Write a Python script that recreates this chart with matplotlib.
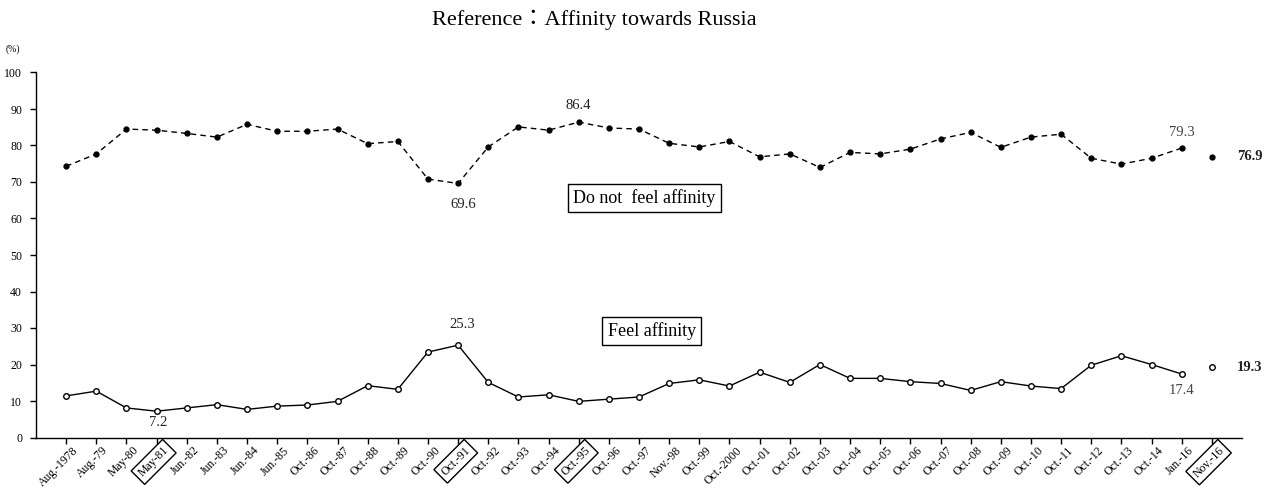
import matplotlib
matplotlib.use("Agg")
import matplotlib.pyplot as plt
import matplotlib.transforms as mtransforms

plt.rcParams['font.family'] = ['Liberation Serif', 'Noto Sans CJK JP', 'DejaVu Sans']

labels = ['Aug.-1978', 'Aug.-79', 'May-80', 'May-81', 'Jun.-82', 'Jun.-83', 'Jun.-84',
          'Jun.-85', 'Oct.-86', 'Oct.-87', 'Oct.-88', 'Oct.-89', 'Oct.-90', 'Oct.-91',
          'Oct.-92', 'Oct.-93', 'Oct.-94', 'Oct.-95', 'Oct.-96', 'Oct.-97', 'Nov.-98',
          'Oct.-99', 'Oct.-2000', 'Oct.-01', 'Oct.-02', 'Oct.-03', 'Oct.-04', 'Oct.-05',
          'Oct.-06', 'Oct.-07', 'Oct.-08', 'Oct.-09', 'Oct.-10', 'Oct.-11', 'Oct.-12',
          'Oct.-13', 'Oct.-14', 'Jan.-16', 'Nov.-16']

not_feel = [74.3, 77.7, 84.5, 84.2, 83.3, 82.3, 85.8, 83.9, 83.9, 84.5, 80.5, 81.1,
            70.8, 69.6, 79.6, 85.1, 84.2, 86.4, 84.8, 84.5, 80.6, 79.6, 81.1, 76.9,
            77.7, 74.0, 78.1, 77.7, 79.0, 81.8, 83.6, 79.5, 82.3, 83.1, 76.5, 74.9,
            76.5, 79.3, 76.9]

feel = [11.4, 12.7, 8.1, 7.2, 8.1, 9.0, 7.7, 8.6, 8.9, 9.9, 14.2, 13.2, 23.4, 25.3,
        15.1, 11.1, 11.7, 9.9, 10.5, 11.1, 14.8, 15.8, 14.1, 17.9, 15.1, 20.0, 16.2,
        16.2, 15.3, 14.8, 12.9, 15.3, 14.1, 13.4, 19.8, 22.4, 20.0, 17.4, 19.3]

boxed_labels = ['May-81', 'Oct.-91', 'Oct.-95', 'Nov.-16']

W, H = 1268, 490
fig = plt.figure(figsize=(W / 100, H / 100), dpi=100)
ax = fig.add_axes([36 / W, (H - 437.5) / H, (1242 - 36) / W, 365 / H])

n = len(labels)
x = list(range(n))
xc = x[:-1]

ax.plot(xc, not_feel[:-1], color='black', lw=1.0, linestyle=(0, (4, 3)),
        marker='o', markersize=3.5, markerfacecolor='black', markeredgecolor='black')
ax.plot(xc, feel[:-1], color='black', lw=1.0,
        marker='o', markersize=4, markerfacecolor='white', markeredgecolor='black',
        markeredgewidth=1.0)
ax.plot([x[-1]], [not_feel[-1]], linestyle='none', marker='o', markersize=3.5,
        markerfacecolor='black', markeredgecolor='black')
ax.plot([x[-1]], [feel[-1]], linestyle='none', marker='o', markersize=4,
        markerfacecolor='white', markeredgecolor='black', markeredgewidth=1.0)

ax.set_xlim(-1, n)
ax.set_ylim(0, 100)
ax.set_yticks(range(0, 101, 10))
ax.set_xticks(x)
ax.set_xticklabels(labels, rotation=45, ha='right', rotation_mode='anchor', fontsize=8.5)
ax.tick_params(axis='x', length=4, width=1, pad=1)
ax.tick_params(axis='y', length=4, width=1, labelsize=8.5, pad=6)
offset = mtransforms.ScaledTranslation(6 / 100, 0, fig.dpi_scale_trans)
for lab in ax.get_xticklabels():
    lab.set_transform(lab.get_transform() + offset)
    if lab.get_text() in boxed_labels:
        lab.set_bbox(dict(boxstyle='square,pad=0.3', fc='white', ec='black', lw=1))

for s in ['top', 'right']:
    ax.spines[s].set_visible(False)
for s in ['left', 'bottom']:
    ax.spines[s].set_linewidth(1)

# value annotations
def note(i, val, dy, color='#222222', bold=False, dx=0, ha='center'):
    ax.annotate(f'{val}', (i, val), xytext=(dx, dy), textcoords='offset points',
                ha=ha, va='center', fontsize=10.5, color=color,
                fontweight='bold' if bold else 'normal')

note(17, not_feel[17], 12)
note(13, not_feel[13], -15, dx=4)
note(37, not_feel[37], 11, color='#444444')
note(13, feel[13], 15, dx=3)
note(3, feel[3], -8, dx=1)
note(37, feel[37], -12, color='#444444')
note(38, not_feel[38], 0, bold=True, dx=18, ha='left')
note(38, feel[38], 0, bold=True, dx=18, ha='left')

ax.text(19.17, 65.6, 'Do not  feel affinity', ha='center', va='center', fontsize=13,
        bbox=dict(boxstyle='square,pad=0.3', fc='white', ec='black', lw=1))
ax.text(19.43, 29.2, 'Feel affinity', ha='center', va='center', fontsize=13,
        bbox=dict(boxstyle='square,pad=0.3', fc='white', ec='black', lw=1))

fig.text(594 / W, 1 - 20 / H, 'Reference：Affinity towards Russia', ha='center',
         va='center', fontsize=16)
fig.text(13 / W, 1 - 49 / H, '(%)', ha='center', va='center', fontsize=7)

fig.savefig('out.png', dpi=100, facecolor='white')
